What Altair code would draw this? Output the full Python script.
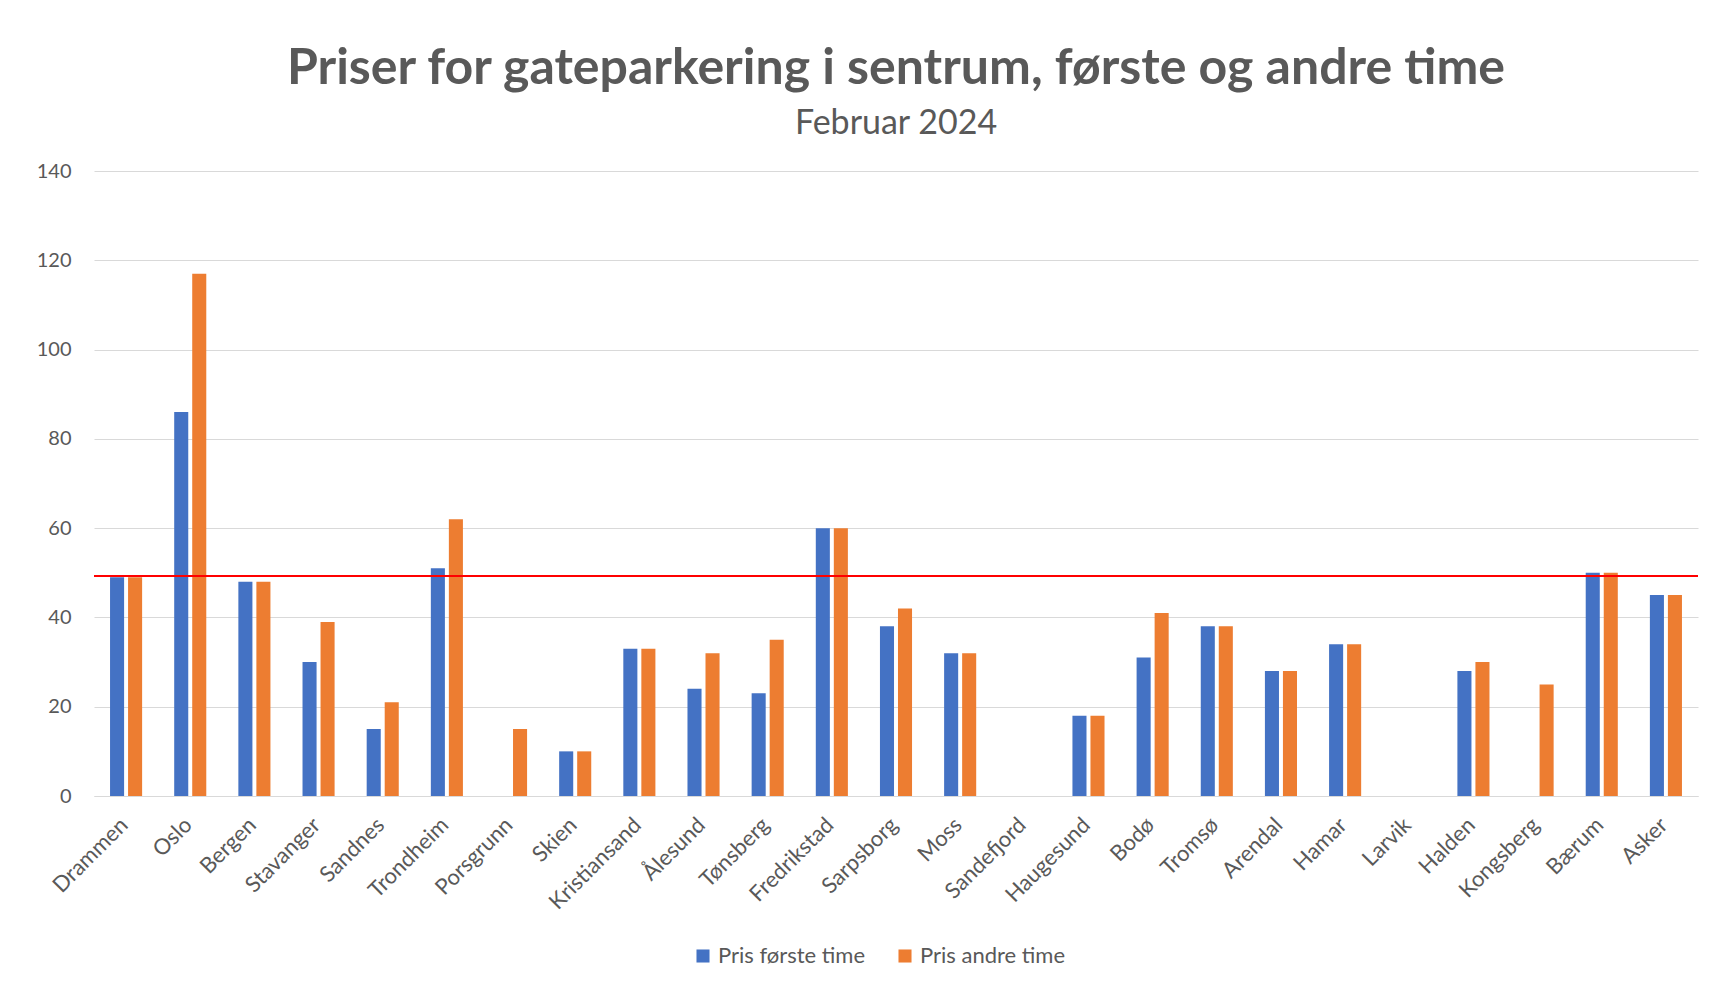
import altair as alt
import pandas as pd

byer = ["Drammen", "Oslo", "Bergen", "Stavanger", "Sandnes", "Trondheim", "Porsgrunn",
        "Skien", "Kristiansand", "Ålesund", "Tønsberg", "Fredrikstad", "Sarpsborg", "Moss",
        "Sandefjord", "Haugesund", "Bodø", "Tromsø", "Arendal", "Hamar", "Larvik", "Halden",
        "Kongsberg", "Bærum", "Asker"]
pris_forste = [49, 86, 48, 30, 15, 51, None, 10, 33, 24, 23, 60, 38, 32, None, 18, 31, 38,
               28, 34, None, 28, None, 50, 45]
pris_andre = [49, 117, 48, 39, 21, 62, 15, 10, 33, 32, 35, 60, 42, 32, None, 18, 41, 38,
              28, 34, None, 30, 25, 50, 45]
serier = ["Pris første time", "Pris andre time"]
farger = ["#4472C4", "#ED7D31"]
snitt = [49.3]
y_ticks = [0, 20, 40, 60, 80, 100, 120, 140]

rows = []
for i, by in enumerate(byer):
    rows.append({"By": by, "Serie": serier[0], "Pris": pris_forste[i]})
    rows.append({"By": by, "Serie": serier[1], "Pris": pris_andre[i]})
df = pd.DataFrame(rows)

grey = "#595959"
font = "Lato"

bars = alt.Chart(df).mark_bar().encode(
    x=alt.X("By:N", sort=byer,
            scale=alt.Scale(domain=byer, paddingInner=0.5, paddingOuter=0.25),
            axis=alt.Axis(title=None, labelAngle=-45, labelAlign="right", labelBaseline="top",
                          labelFontSize=22, labelColor=grey, labelFont=font, ticks=False,
                          domain=True, domainColor="#d9d9d9", labelPadding=18,
                          labelOffset=-9)),
    xOffset=alt.XOffset("Serie:N", sort=serier,
                        scale=alt.Scale(domain=serier, paddingInner=0.22, paddingOuter=0)),
    y=alt.Y("Pris:Q", scale=alt.Scale(domain=[0, 140]),
            axis=alt.Axis(title=None, values=y_ticks, grid=True, gridColor="#d9d9d9",
                          domain=False, ticks=False, labelPadding=23, labelFontSize=20,
                          labelColor=grey, labelFont=font)),
    color=alt.Color("Serie:N", sort=serier,
                    scale=alt.Scale(domain=serier, range=farger),
                    legend=alt.Legend(title=None, orient="none", legendX=598, legendY=774,
                                      direction="horizontal", symbolType="square",
                                      symbolSize=170, labelFontSize=22, labelColor=grey,
                                      labelFont=font, columnPadding=28, symbolStrokeWidth=0)),
)

rule = alt.Chart(pd.DataFrame({"snitt": snitt})).mark_rule(color="#FF0000", strokeWidth=2).encode(
    y="snitt:Q"
)

chart = alt.layer(bars, rule).properties(
    width=1604,
    height=625,
    autosize=alt.AutoSizeParams(type="none"),
    padding={"left": 86, "top": 163, "right": 10, "bottom": 188},
    title=alt.TitleParams(
        text="Priser for gateparkering i sentrum, første og andre time",
        subtitle="Februar 2024",
        font=font, fontSize=50, fontWeight="bold", color=grey,
        subtitleFont=font, subtitleFontSize=34, subtitleColor=grey,
        anchor="middle", offset=20, subtitlePadding=13,
    ),
).configure_view(stroke=None)

chart.save("out.html", embed_options={"renderer": "svg", "actions": False})
